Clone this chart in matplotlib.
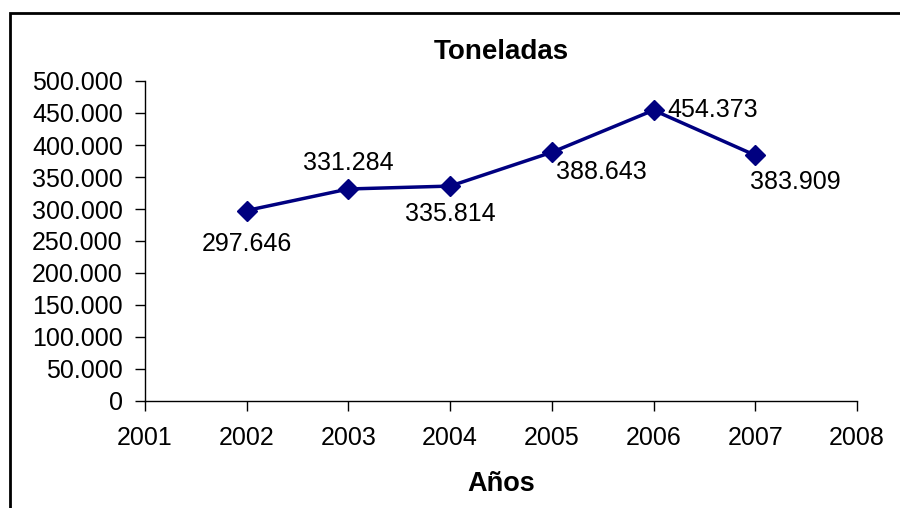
import matplotlib
matplotlib.use("Agg")
import matplotlib.pyplot as plt
from matplotlib.patches import Rectangle

plt.rcParams['font.family'] = ['Liberation Sans', 'DejaVu Sans']

years = [2002, 2003, 2004, 2005, 2006, 2007]
toneladas = [297646, 331284, 335814, 388643, 454373, 383909]
labels = ["297.646", "331.284", "335.814", "388.643", "454.373", "383.909"]
ytick_vals = [0, 50000, 100000, 150000, 200000, 250000, 300000, 350000, 400000, 450000, 500000]
ytick_labels = ["0", "50.000", "100.000", "150.000", "200.000", "250.000", "300.000",
                "350.000", "400.000", "450.000", "500.000"]
xtick_vals = [2001, 2002, 2003, 2004, 2005, 2006, 2007, 2008]

# label offsets in pixels and alignment
offsets = [(0, -33, 'center'), (0, 26, 'center'), (0, -28, 'center'),
           (50, -20, 'center'), (14, 0, 'left'), (40, -27, 'center')]

fig = plt.figure(figsize=(9, 5.08), dpi=100)
ax = fig.add_axes([145/900, 1-401/508, (857-145)/900, (401-81)/508])

ax.plot(years, toneladas, color='#000080', lw=2.5, marker='D', markersize=10,
        markerfacecolor='#000080', markeredgecolor='#000080')

for x, y, lab, (dx, dy, ha) in zip(years, toneladas, labels, offsets):
    ax.annotate(lab, (x, y), xytext=(dx, dy), textcoords='offset pixels',
                ha=ha, va='center', fontsize=18)

ax.set_xlim(2001, 2008)
ax.set_ylim(0, 500000)
ax.set_yticks(ytick_vals)
ax.set_yticklabels(ytick_labels)
ax.set_xticks(xtick_vals)
ax.set_xticklabels([str(v) for v in xtick_vals])
ax.tick_params(axis='both', labelsize=18, length=7, width=1, direction='out', color='black')
ax.tick_params(axis='x', pad=11)
ax.tick_params(axis='y', pad=9)
for s in ['top', 'right']:
    ax.spines[s].set_visible(False)
for s in ['left', 'bottom']:
    ax.spines[s].set_linewidth(1)

ax.set_title("Toneladas", fontsize=20, fontweight='bold', pad=16)
ax.set_xlabel("Años", fontsize=19.5, fontweight='bold', labelpad=15)

fig.patches.append(Rectangle((10/900, -0.1), 1.2, 1 - 13/508 + 0.1, transform=fig.transFigure,
                             fill=False, edgecolor='black', lw=2))

fig.savefig("out.png", dpi=100)
